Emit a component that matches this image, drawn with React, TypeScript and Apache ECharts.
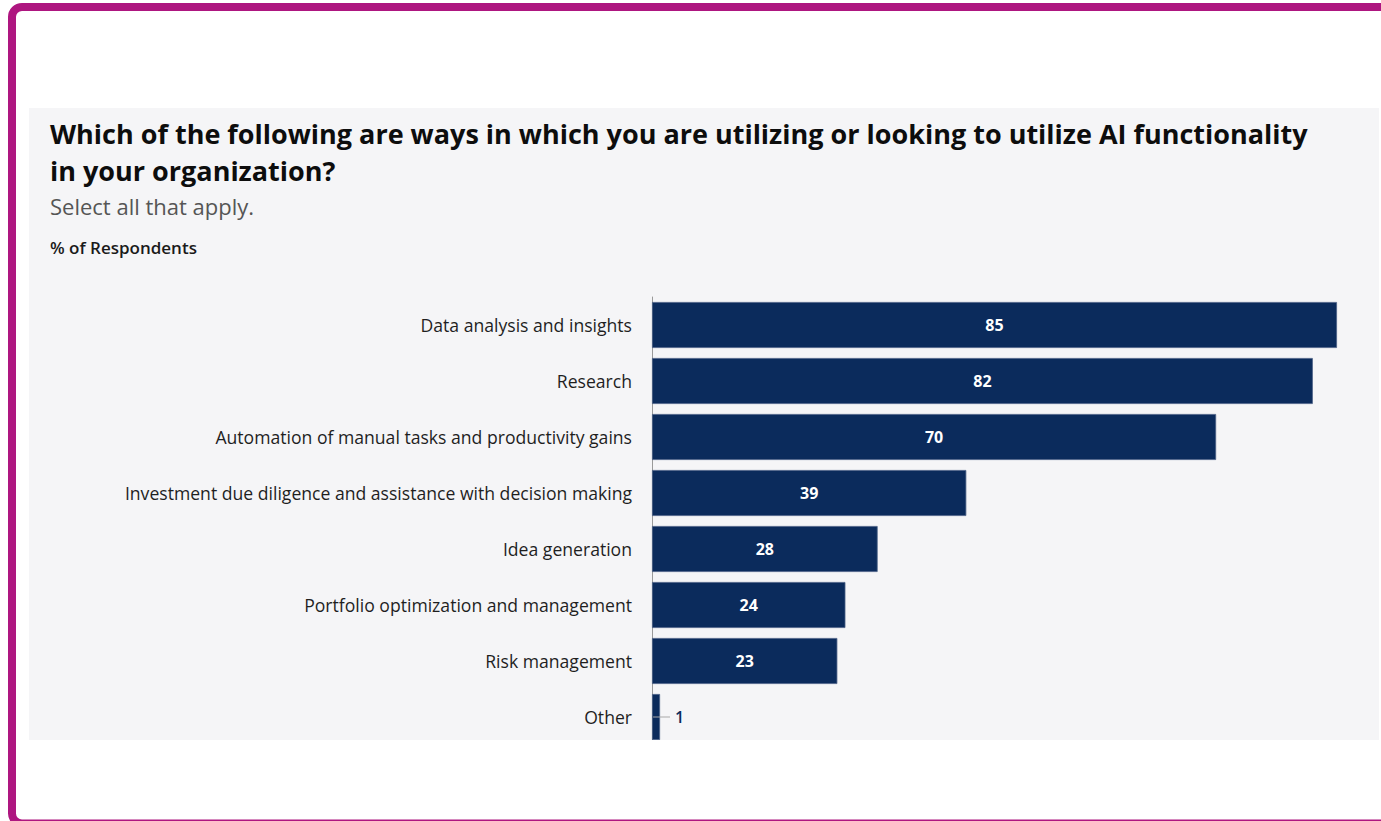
import React, { useEffect, useRef } from "react";
import * as echarts from "echarts";

const categories: string[] = [
  "Data analysis and insights",
  "Research",
  "Automation of manual tasks and productivity gains",
  "Investment due diligence and assistance with decision making",
  "Idea generation",
  "Portfolio optimization and management",
  "Risk management",
  "Other",
];
const values: number[] = [85, 82, 70, 39, 28, 24, 23, 1];

const titleLines: string[] = [
  "Which of the following are ways in which you are utilizing or looking to utilize AI functionality",
  "in your organization?",
];
const subtitle = "Select all that apply.";
const unitLabel = "% of Respondents";

const FONT = "'Open Sans', Lato, sans-serif";
const NAVY = "#0b2b5c";

export default function App() {
  const ref = useRef<HTMLDivElement>(null);
  useEffect(() => {
    document.body.style.margin = "0";
    if (!ref.current) return;
    const chart = echarts.init(ref.current, null, { renderer: "svg" });
    const data = values.map((v) => {
      if (v < 5) {
        return {
          value: v,
          label: {
            show: true,
            position: "right",
            distance: -7,
            formatter: "{l|}{v|" + v + "}",
            rich: {
              l: { width: 17, height: 1, backgroundColor: "#a9a9a9" },
              v: { color: NAVY, fontSize: 16, fontWeight: 600, fontFamily: FONT, padding: [0, 0, 0, 5] },
            },
          },
        };
      }
      return { value: v };
    });
    chart.setOption({
      animation: false,
      textStyle: { fontFamily: FONT },
      graphic: [
        {
          type: "rect",
          z: -10,
          shape: { x: 29, y: 108, width: 1350, height: 632 },
          style: { fill: "#f5f5f7" },
          silent: true,
        },
        {
          type: "text",
          x: 50,
          y: 133,
          style: {
            text: titleLines[0],
            fontSize: 27,
            fontWeight: "bold",
            fontFamily: FONT,
            fill: "#0d0d0d",
            verticalAlign: "middle",
          },
        },
        {
          type: "text",
          x: 50,
          y: 170,
          style: {
            text: titleLines[1],
            fontSize: 27,
            fontWeight: "bold",
            fontFamily: FONT,
            fill: "#0d0d0d",
            verticalAlign: "middle",
          },
        },
        {
          type: "text",
          x: 50,
          y: 206,
          style: {
            text: subtitle,
            fontSize: 22,
            fontFamily: FONT,
            fill: "#555555",
            verticalAlign: "middle",
          },
        },
        {
          type: "text",
          x: 50,
          y: 247,
          style: {
            text: unitLabel,
            fontSize: 17,
            fontWeight: 600,
            fontFamily: FONT,
            fill: "#1a1a1a",
            verticalAlign: "middle",
          },
        },
        {
          type: "rect",
          z: 50,
          shape: { x: 16, y: 740, width: 1400, height: 100 },
          style: { fill: "#ffffff" },
          silent: true,
        },
        {
          type: "rect",
          z: 60,
          shape: { x: 12, y: 7, width: 1420, height: 816.5, r: 10 },
          style: { fill: "none", stroke: "#ae1680", lineWidth: 8 },
          silent: true,
        },
      ],
      grid: { left: 652, top: 297, width: 685, height: 448, containLabel: false },
      xAxis: {
        type: "value",
        min: 0,
        max: 85,
        show: false,
      },
      yAxis: {
        type: "category",
        data: categories,
        inverse: true,
        axisLine: { show: true, lineStyle: { color: "#9a9a9a", width: 1 } },
        axisTick: { show: false },
        axisLabel: {
          margin: 20,
          fontSize: 17.6,
          color: "#1f1f1f",
          fontFamily: FONT,
        },
      },
      series: [
        {
          type: "bar",
          data,
          barWidth: 46,
          itemStyle: { color: NAVY, borderColor: "#4a5f85", borderWidth: 0.8 },
          label: {
            show: true,
            position: "inside",
            color: "#ffffff",
            fontSize: 16,
            fontWeight: "bold",
            fontFamily: FONT,
          },
        },
      ],
    });
    return () => chart.dispose();
  }, []);
  return <div ref={ref} style={{ width: 1381, height: 821 }} />;
}
